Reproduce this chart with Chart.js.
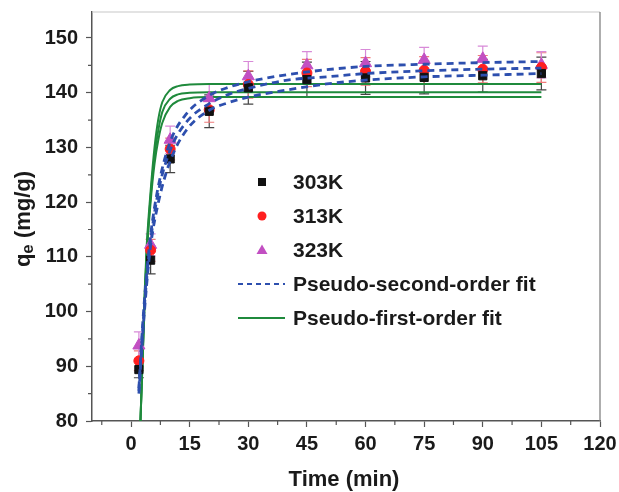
<!DOCTYPE html>
<html>
<head>
<meta charset="utf-8">
<script src="https://cdn.jsdelivr.net/npm/chart.js@4.4.0/dist/chart.umd.min.js"></script>
<style>
  html, body { margin: 0; padding: 0; background: #fff; }
  #wrap { width: 619px; height: 492px; }
</style>
</head>
<body>
<div id="wrap"><canvas id="kinChart" width="619" height="492"></canvas></div>
<script>
// measured points (min, mg/g)
const times = [2, 5, 10, 20, 30, 45, 60, 75, 90, 105];
const q303 = [89.4, 109.4, 127.9, 136.6, 140.9, 142.4, 142.7, 142.8, 143.1, 143.5];
const q313 = [91.0, 111.2, 129.7, 136.9, 141.5, 143.6, 143.9, 144.1, 144.3, 144.6];
const q323 = [93.8, 112.2, 131.4, 139.0, 143.0, 145.0, 145.4, 146.0, 146.2, 145.1];
const err303 = [1.5, 2.5, 2.5, 3.0, 3.0, 3.2, 3.0, 3.0, 3.0, 3.0];
const err313 = [1.8, 2.0, 2.0, 2.3, 2.5, 2.5, 2.5, 2.5, 2.5, 2.7];
const err323 = [2.5, 2.0, 2.5, 2.5, 2.7, 2.5, 2.5, 2.3, 2.3, 2.4];

// fitted curves
const psoT = [2, 3, 4, 5, 7, 10, 14, 20, 25, 30, 40, 50, 60, 75, 90, 105];
const pso1 = [86, 98, 107, 114, 123, 131, 136, 139.5, 141, 142, 143.3, 144.2, 144.8, 145.2, 145.5, 145.7];
const pso2 = [85.5, 97, 106, 113, 122, 129.5, 134.5, 138, 139.7, 140.8, 142.3, 142.9, 143.5, 144, 144.3, 144.5];
const pso3 = [85, 96, 105, 112, 120, 127.5, 133, 136.8, 138.2, 139.2, 140.5, 141.6, 142.3, 142.9, 143.2, 143.5];
const pfoT = [2.4, 3, 3.5, 4, 5, 6, 7, 8, 10, 12, 15, 20, 105];
const pfo1 = [80, 93, 104, 112, 122, 130, 135.3, 138.3, 140.5, 141.2, 141.5, 141.6, 141.6];
const pfo2 = [80, 92.5, 103, 111, 121, 128.5, 133.3, 136.5, 138.9, 139.7, 140.0, 140.1, 140.1];
const pfo3 = [80, 92, 102, 110, 120, 127, 131.5, 134.5, 137.4, 138.5, 139.0, 139.2, 139.2];

// axis ticks
const xTicks = [0, 15, 30, 45, 60, 75, 90, 105, 120];
const xMinor = [-7.5, 7.5, 22.5, 37.5, 52.5, 67.5, 82.5, 97.5, 112.5];
const yTicks = [80, 90, 100, 110, 120, 130, 140, 150];
const yMinor = [85, 95, 105, 115, 125, 135, 145];

const FONT = '"Liberation Sans", Arial, sans-serif';
const BLUE = '#2d4fae';
const GREEN = '#1f8a3c';

function pts(xs, ys) {
  return xs.map((x, i) => ({ x: x, y: ys[i] }));
}

function fitLine(label, xs, ys, color, dash, order) {
  return {
    type: 'line', label: label, data: pts(xs, ys),
    borderColor: color, borderWidth: dash ? 2.8 : 2, borderDash: dash || [],
    pointRadius: 0, fill: false, cubicInterpolationMode: 'monotone',
    showLine: true, order: order
  };
}

const datasets = [
  {
    type: 'scatter', label: '303K', data: pts(times, q303), errors: err303, errColor: '#444',
    pointStyle: 'rect', pointRadius: 5.8, backgroundColor: '#111', borderColor: '#111', order: 2
  },
  {
    type: 'scatter', label: '313K', data: pts(times, q313), errors: err313, errColor: '#f07a7a',
    pointStyle: 'circle', pointRadius: 5, backgroundColor: '#ff1f1f', borderColor: '#ff1f1f', order: 2
  },
  {
    type: 'scatter', label: '323K', data: pts(times, q323), errors: err323, errColor: '#d88ad8',
    pointStyle: 'triangle', pointRadius: 7, backgroundColor: '#c24fc2', borderColor: '#c24fc2', order: 2
  },
  fitLine('Pseudo-second-order fit', psoT, pso1, BLUE, [7, 5], 1),
  fitLine('', psoT, pso2, BLUE, [7, 5], 1),
  fitLine('', psoT, pso3, BLUE, [7, 5], 1),
  fitLine('Pseudo-first-order fit', pfoT, pfo1, GREEN, null, 3),
  fitLine('', pfoT, pfo2, GREEN, null, 3),
  fitLine('', pfoT, pfo3, GREEN, null, 3)
];

// error bars under the markers
const errorBars = {
  id: 'errorBars',
  beforeDatasetsDraw(chart) {
    const ctx = chart.ctx;
    const xs = chart.scales.x, ys = chart.scales.y;
    ctx.save();
    chart.data.datasets.forEach(ds => {
      if (!ds.errors) return;
      ctx.strokeStyle = ds.errColor;
      ctx.lineWidth = 1.2;
      ds.data.forEach((p, i) => {
        const px = xs.getPixelForValue(p.x);
        const top = ys.getPixelForValue(p.y + ds.errors[i]);
        const bot = ys.getPixelForValue(p.y - ds.errors[i]);
        ctx.beginPath();
        ctx.moveTo(px, top); ctx.lineTo(px, bot);
        ctx.moveTo(px - 5, top); ctx.lineTo(px + 5, top);
        ctx.moveTo(px - 5, bot); ctx.lineTo(px + 5, bot);
        ctx.stroke();
      });
    });
    ctx.restore();
  }
};

// frame, minor ticks, axis titles and the in-plot legend
const decor = {
  id: 'decor',
  afterDraw(chart) {
    const ctx = chart.ctx;
    const a = chart.chartArea;
    const xs = chart.scales.x, ys = chart.scales.y;
    ctx.save();
    // top and right border
    ctx.lineWidth = 1.2;
    ctx.strokeStyle = '#c8c8c8';
    ctx.beginPath(); ctx.moveTo(a.left, a.top); ctx.lineTo(a.right, a.top); ctx.stroke();
    ctx.strokeStyle = '#777';
    ctx.beginPath(); ctx.moveTo(a.right, a.top); ctx.lineTo(a.right, a.bottom); ctx.stroke();
    // minor ticks
    ctx.strokeStyle = '#555';
    ctx.lineWidth = 1.2;
    ctx.beginPath();
    xMinor.forEach(v => {
      const px = xs.getPixelForValue(v);
      ctx.moveTo(px, a.bottom); ctx.lineTo(px, a.bottom + 4);
    });
    yMinor.forEach(v => {
      const py = ys.getPixelForValue(v);
      ctx.moveTo(a.left, py); ctx.lineTo(a.left - 4, py);
    });
    ctx.stroke();

    // x title
    ctx.fillStyle = '#1a1a1a';
    ctx.font = 'bold 22px ' + FONT;
    ctx.textAlign = 'center';
    ctx.textBaseline = 'middle';
    ctx.fillText('Time (min)', 344, 480);

    // y title with subscript
    ctx.translate(23, 219);
    ctx.rotate(-Math.PI / 2);
    const big = 'bold 22px ' + FONT, small = 'bold 17px ' + FONT;
    ctx.font = big;
    const wq = ctx.measureText('q').width;
    const wr = ctx.measureText(' (mg/g)').width;
    ctx.font = small;
    const we = ctx.measureText('e').width;
    let sx = -(wq + we + wr) / 2;
    ctx.textAlign = 'left';
    ctx.textBaseline = 'alphabetic';
    ctx.font = big;
    ctx.fillText('q', sx, 7);
    ctx.font = small;
    ctx.fillText('e', sx + wq, 10);
    ctx.font = big;
    ctx.fillText(' (mg/g)', sx + wq + we, 7);
    ctx.setTransform(1, 0, 0, 1, 0, 0);

    // legend
    const items = [
      { ds: chart.data.datasets[0], y: 182 },
      { ds: chart.data.datasets[1], y: 216 },
      { ds: chart.data.datasets[2], y: 250 },
      { ds: chart.data.datasets[3], y: 284, line: true },
      { ds: chart.data.datasets[6], y: 318, line: true }
    ];
    items.forEach(it => {
      const ds = it.ds;
      if (it.line) {
        ctx.strokeStyle = ds.borderColor;
        ctx.lineWidth = ds.borderDash.length ? 2.2 : 2;
        ctx.setLineDash(ds.borderDash.length ? [5, 4] : []);
        ctx.beginPath(); ctx.moveTo(238, it.y); ctx.lineTo(285, it.y); ctx.stroke();
        ctx.setLineDash([]);
      } else {
        ctx.fillStyle = ds.backgroundColor;
        ctx.beginPath();
        if (ds.pointStyle === 'rect') ctx.rect(258, it.y - 4, 8, 8);
        else if (ds.pointStyle === 'circle') ctx.arc(262, it.y, 4.5, 0, Math.PI * 2);
        else { ctx.moveTo(262, it.y - 5.5); ctx.lineTo(267.5, it.y + 4); ctx.lineTo(256.5, it.y + 4); ctx.closePath(); }
        ctx.fill();
      }
      ctx.fillStyle = '#1a1a1a';
      ctx.font = 'bold 21px ' + FONT;
      ctx.textAlign = 'left';
      ctx.textBaseline = 'middle';
      ctx.fillText(ds.label, 293, it.y + 1);
    });
    ctx.restore();
  }
};

new Chart(document.getElementById('kinChart').getContext('2d'), {
  type: 'scatter',
  data: { datasets: datasets },
  plugins: [errorBars, decor],
  options: {
    responsive: false,
    animation: false,
    layout: { padding: { left: 0, right: 19, top: 12, bottom: 0 } },
    plugins: { legend: { display: false }, tooltip: { enabled: false } },
    scales: {
      x: {
        type: 'linear', min: -10, max: 120,
        afterBuildTicks: s => { s.ticks = xTicks.map(v => ({ value: v })); },
        afterFit: s => { s.height = 71; s.paddingLeft = 0; s.paddingRight = 0; },
        grid: { drawOnChartArea: false, tickLength: 6, tickColor: '#555', tickWidth: 1.2 },
        border: { color: '#555', width: 1.5 },
        ticks: { color: '#1a1a1a', padding: 5, font: { family: FONT, size: 20, weight: 'bold' }, maxRotation: 0 }
      },
      y: {
        type: 'linear', min: 80, max: 154.75,
        afterBuildTicks: s => { s.ticks = yTicks.map(v => ({ value: v })); },
        afterFit: s => { s.width = 92; s.paddingTop = 0; s.paddingBottom = 0; },
        grid: { drawOnChartArea: false, tickLength: 6, tickColor: '#555', tickWidth: 1.2 },
        border: { color: '#555', width: 1.5 },
        ticks: { color: '#1a1a1a', padding: 8, font: { family: FONT, size: 20, weight: 'bold' } }
      }
    }
  }
});
</script>
</body>
</html>
